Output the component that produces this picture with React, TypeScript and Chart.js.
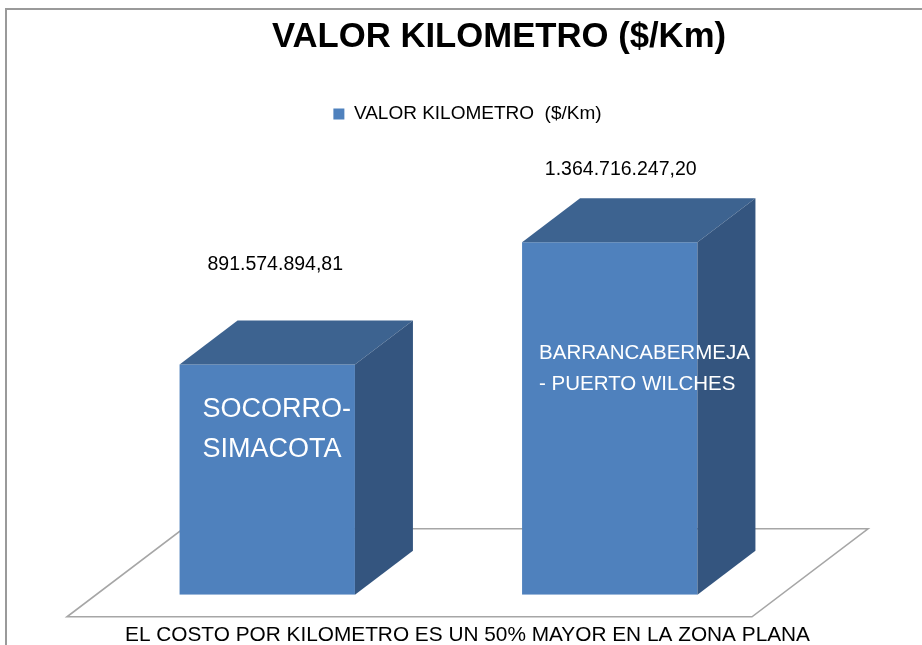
import { useEffect, useRef } from "react";
import { Chart, registerables } from "chart.js";

Chart.register(...registerables);

// ---- data ----
const categories: string[][] = [
  ["SOCORRO-", "SIMACOTA"],
  ["BARRANCABERMEJA", "- PUERTO WILCHES"],
];
const values: number[] = [891574894.81, 1364716247.2];
const seriesName = "VALOR KILOMETRO  ($/Km)";
const chartTitle = "VALOR KILOMETRO ($/Km)";
const footerNote = "EL COSTO POR KILOMETRO ES UN 50% MAYOR EN LA ZONA PLANA";
const yMax = 1700000000;

const FONT = "'Liberation Sans', Arial, sans-serif";

function fmtEs(v: number): string {
  const [i, d] = v.toFixed(2).split(".");
  return i.replace(/\B(?=(\d{3})+(?!\d))/g, ".") + "," + d;
}

const bar3d = {
  id: "bar3d",
  beforeDraw(chart: any) {
    const { ctx } = chart;
    ctx.save();
    ctx.strokeStyle = "#9a9a9a";
    ctx.lineWidth = 2;
    ctx.beginPath();
    ctx.moveTo(6, chart.height + 2);
    ctx.lineTo(6, 9);
    ctx.lineTo(chart.width + 2, 9);
    ctx.stroke();
    ctx.restore();
  },
  beforeDatasetsDraw(chart: any, _a: any, opts: any) {
    const { ctx, chartArea: a } = chart;
    const dx = opts.depthX, dy = opts.depthY;
    ctx.save();
    ctx.beginPath();
    ctx.moveTo(a.left - dx, a.bottom + dy);
    ctx.lineTo(a.right - dx, a.bottom + dy);
    ctx.lineTo(a.right + dx, a.bottom - dy);
    ctx.lineTo(a.left + dx, a.bottom - dy);
    ctx.closePath();
    ctx.fillStyle = "#ffffff";
    ctx.fill();
    ctx.strokeStyle = "#a6a6a6";
    ctx.lineWidth = 1.6;
    ctx.stroke();
    ctx.restore();
  },
  beforeDatasetDraw(chart: any, _a: any, opts: any) {
    chart.ctx.save();
    chart.ctx.translate(-opts.depthX / 2, opts.depthY / 2);
  },
  afterDatasetDraw(chart: any, args: any, opts: any) {
    const { ctx } = chart;
    const dx = opts.depthX, dy = opts.depthY;
    const meta = args.meta;
    meta.data.forEach((el: any, i: number) => {
      const { x, y, base, width } = el.getProps(["x", "y", "base", "width"], true);
      const L = x - width / 2, R = x + width / 2;
      ctx.fillStyle = opts.topColor;
      ctx.beginPath();
      ctx.moveTo(L, y);
      ctx.lineTo(L + dx, y - dy);
      ctx.lineTo(R + dx, y - dy);
      ctx.lineTo(R, y);
      ctx.closePath();
      ctx.fill();
      ctx.fillStyle = opts.sideColor;
      ctx.beginPath();
      ctx.moveTo(R, y);
      ctx.lineTo(R + dx, y - dy);
      ctx.lineTo(R + dx, base - dy);
      ctx.lineTo(R, base);
      ctx.closePath();
      ctx.fill();

      // value label
      const v = chart.data.datasets[args.index].data[i];
      ctx.fillStyle = "#000";
      ctx.font = `${opts.valueFontSize}px ${FONT}`;
      ctx.textAlign = "center";
      ctx.textBaseline = "middle";
      ctx.fillText(fmtEs(v), x + opts.valueDx[i], y + opts.valueDy[i]);

      // category label inside bar
      const lines: string[] = chart.data.labels[i];
      const size = opts.catFontSize[i];
      const lh = size * 1.5;
      const cy = (y + base) / 2 + opts.catDy;
      ctx.fillStyle = "#ffffff";
      ctx.font = `${size}px ${FONT}`;
      ctx.textAlign = "left";
      lines.forEach((ln, k) => {
        ctx.fillText(ln, L + opts.catDx[i], cy + (k - (lines.length - 1) / 2) * lh);
      });
    });
    ctx.restore();
  },
};

export default function App() {
  const ref = useRef<HTMLCanvasElement | null>(null);
  useEffect(() => {
    if (!ref.current) return;
    Chart.defaults.font.family = FONT;
    const chart = new Chart(ref.current, {
      type: "bar",
      data: {
        labels: categories,
        datasets: [
          {
            label: seriesName,
            data: values,
            backgroundColor: "#4f81bd",
            borderWidth: 0,
            barPercentage: 0.512,
            categoryPercentage: 1,
          },
        ],
      },
      options: {
        responsive: false,
        animation: false,
        layout: { padding: { left: 125, right: 49, top: 0, bottom: -3 } },
        plugins: {
          title: {
            display: true,
            text: chartTitle,
            color: "#000",
            font: { family: FONT, size: 34.7, weight: "bold", lineHeight: 1.2 },
            padding: { top: 16.7, bottom: 36.2 },
          },
          legend: {
            fullSize: false,
            labels: {
              boxWidth: 11,
              boxHeight: 11,
              color: "#000",
              padding: 10,
              font: { family: FONT, size: 19 },
            },
          },
          tooltip: { enabled: false },
          bar3d: {
            depthX: 58,
            depthY: 44,
            topColor: "#3d6390",
            sideColor: "#34557f",
            valueFontSize: 19.5,
            valueDx: [8, 11],
            valueDy: [-100, -73],
            catFontSize: [27, 20.5],
            catDx: [23, 17],
            catDy: -50,
          },
        } as any,
        scales: {
          x: {
            grid: { display: false, drawTicks: false },
            border: { display: false },
            ticks: { display: false },
            title: {
              display: true,
              text: footerNote,
              color: "#000",
              font: { family: FONT, size: 21 },
              padding: { top: 50, bottom: 0 },
            },
          },
          y: {
            position: "right",
            min: 0,
            max: yMax,
            grid: { display: false, drawTicks: false },
            border: { display: false },
            ticks: { display: false },
            afterFit: (s: any) => {
              s.width = 63;
            },
          },
        },
      },
      plugins: [bar3d],
    });
    return () => chart.destroy();
  }, []);
  return (
    <div style={{ position: "fixed", left: 0, top: 0, width: 922, height: 645, background: "#fff" }}>
      <canvas ref={ref} width={922} height={645} />
    </div>
  );
}
